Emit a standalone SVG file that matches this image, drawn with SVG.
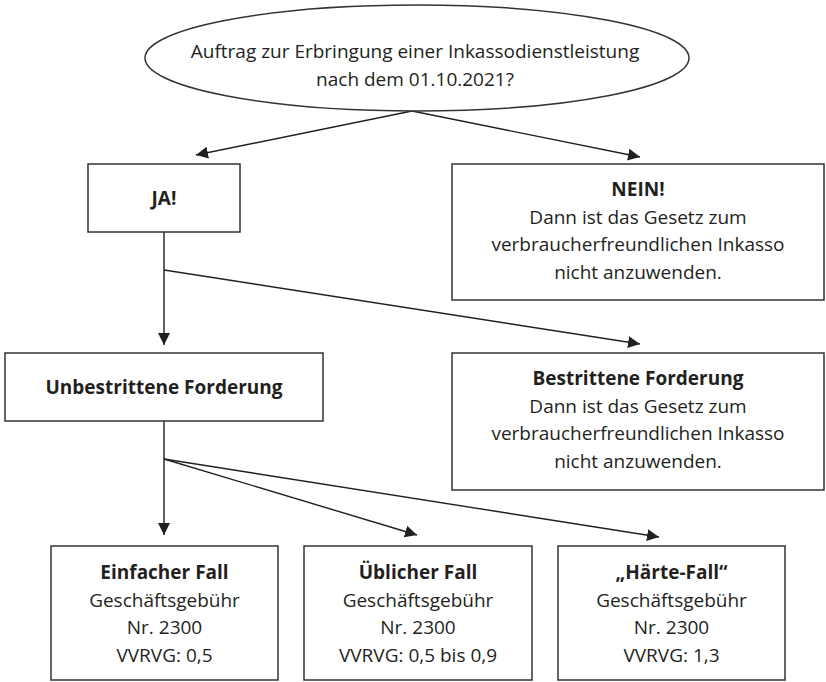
<svg xmlns="http://www.w3.org/2000/svg" width="826" height="682" viewBox="0 0 826 682">
<defs>
<marker id="arr" markerUnits="userSpaceOnUse" markerWidth="12" markerHeight="12" refX="12" refY="6" orient="auto">
<path d="M0,0 L12,6 L0,12 z" fill="#231f20"/>
</marker>
<style>
.box{fill:#fff;stroke:#333;stroke-width:1.5}
.t{font-family:"Open Sans","Liberation Sans",sans-serif;font-size:19px;fill:#231f20;text-anchor:middle}
.b{font-weight:bold}
.c{fill:none;stroke:#231f20;stroke-width:1.4}
</style>
</defs>
<rect width="826" height="682" fill="#fff"/>
<g id="connectors">
<line class="c" x1="412" y1="111" x2="196" y2="155" marker-end="url(#arr)"/>
<line class="c" x1="412" y1="111" x2="640" y2="157" marker-end="url(#arr)"/>
<line class="c" x1="164" y1="232" x2="164" y2="345" marker-end="url(#arr)"/>
<line class="c" x1="164" y1="270" x2="640" y2="344" marker-end="url(#arr)"/>
<line class="c" x1="164" y1="421" x2="164" y2="535" marker-end="url(#arr)"/>
<line class="c" x1="164" y1="459" x2="417" y2="535" marker-end="url(#arr)"/>
<line class="c" x1="164" y1="459" x2="659" y2="537" marker-end="url(#arr)"/>
</g>
<g id="start">
<ellipse class="box" cx="417" cy="58" rx="272" ry="53"/>
<text class="t" x="415" y="58">Auftrag zur Erbringung einer Inkassodienstleistung</text>
<text class="t" x="415" y="86">nach dem 01.10.2021?</text>
</g>
<g id="ja">
<rect class="box" x="88" y="164" width="152" height="68"/>
<text class="t b" x="164" y="205">JA!</text>
</g>
<g id="nein">
<rect class="box" x="452" y="164" width="372" height="136"/>
<text class="t b" x="638" y="196">NEIN!</text>
<text class="t" x="638" y="224">Dann ist das Gesetz zum</text>
<text class="t" x="638" y="251">verbraucherfreundlichen Inkasso</text>
<text class="t" x="638" y="279">nicht anzuwenden.</text>
</g>
<g id="unbestritten">
<rect class="box" x="5" y="353" width="318" height="68"/>
<text class="t b" x="164" y="394">Unbestrittene Forderung</text>
</g>
<g id="bestritten">
<rect class="box" x="452" y="353" width="372" height="137"/>
<text class="t b" x="638" y="385">Bestrittene Forderung</text>
<text class="t" x="638" y="413">Dann ist das Gesetz zum</text>
<text class="t" x="638" y="440">verbraucherfreundlichen Inkasso</text>
<text class="t" x="638" y="468">nicht anzuwenden.</text>
</g>
<g id="einfach">
<rect class="box" x="51" y="546" width="227" height="134"/>
<text class="t b" x="164.5" y="579">Einfacher Fall</text>
<text class="t" x="164.5" y="607">Geschäftsgebühr</text>
<text class="t" x="164.5" y="634">Nr. 2300</text>
<text class="t" x="164.5" y="662">VVRVG: 0,5</text>
</g>
<g id="ueblich">
<rect class="box" x="304" y="546" width="228" height="134"/>
<text class="t b" x="418" y="579">Üblicher Fall</text>
<text class="t" x="418" y="607">Geschäftsgebühr</text>
<text class="t" x="418" y="634">Nr. 2300</text>
<text class="t" x="418" y="662">VVRVG: 0,5 bis 0,9</text>
</g>
<g id="haerte">
<rect class="box" x="558" y="546" width="227" height="134"/>
<text class="t b" x="671.5" y="579">„Härte-Fall“</text>
<text class="t" x="671.5" y="607">Geschäftsgebühr</text>
<text class="t" x="671.5" y="634">Nr. 2300</text>
<text class="t" x="671.5" y="662">VVRVG: 1,3</text>
</g>
</svg>
